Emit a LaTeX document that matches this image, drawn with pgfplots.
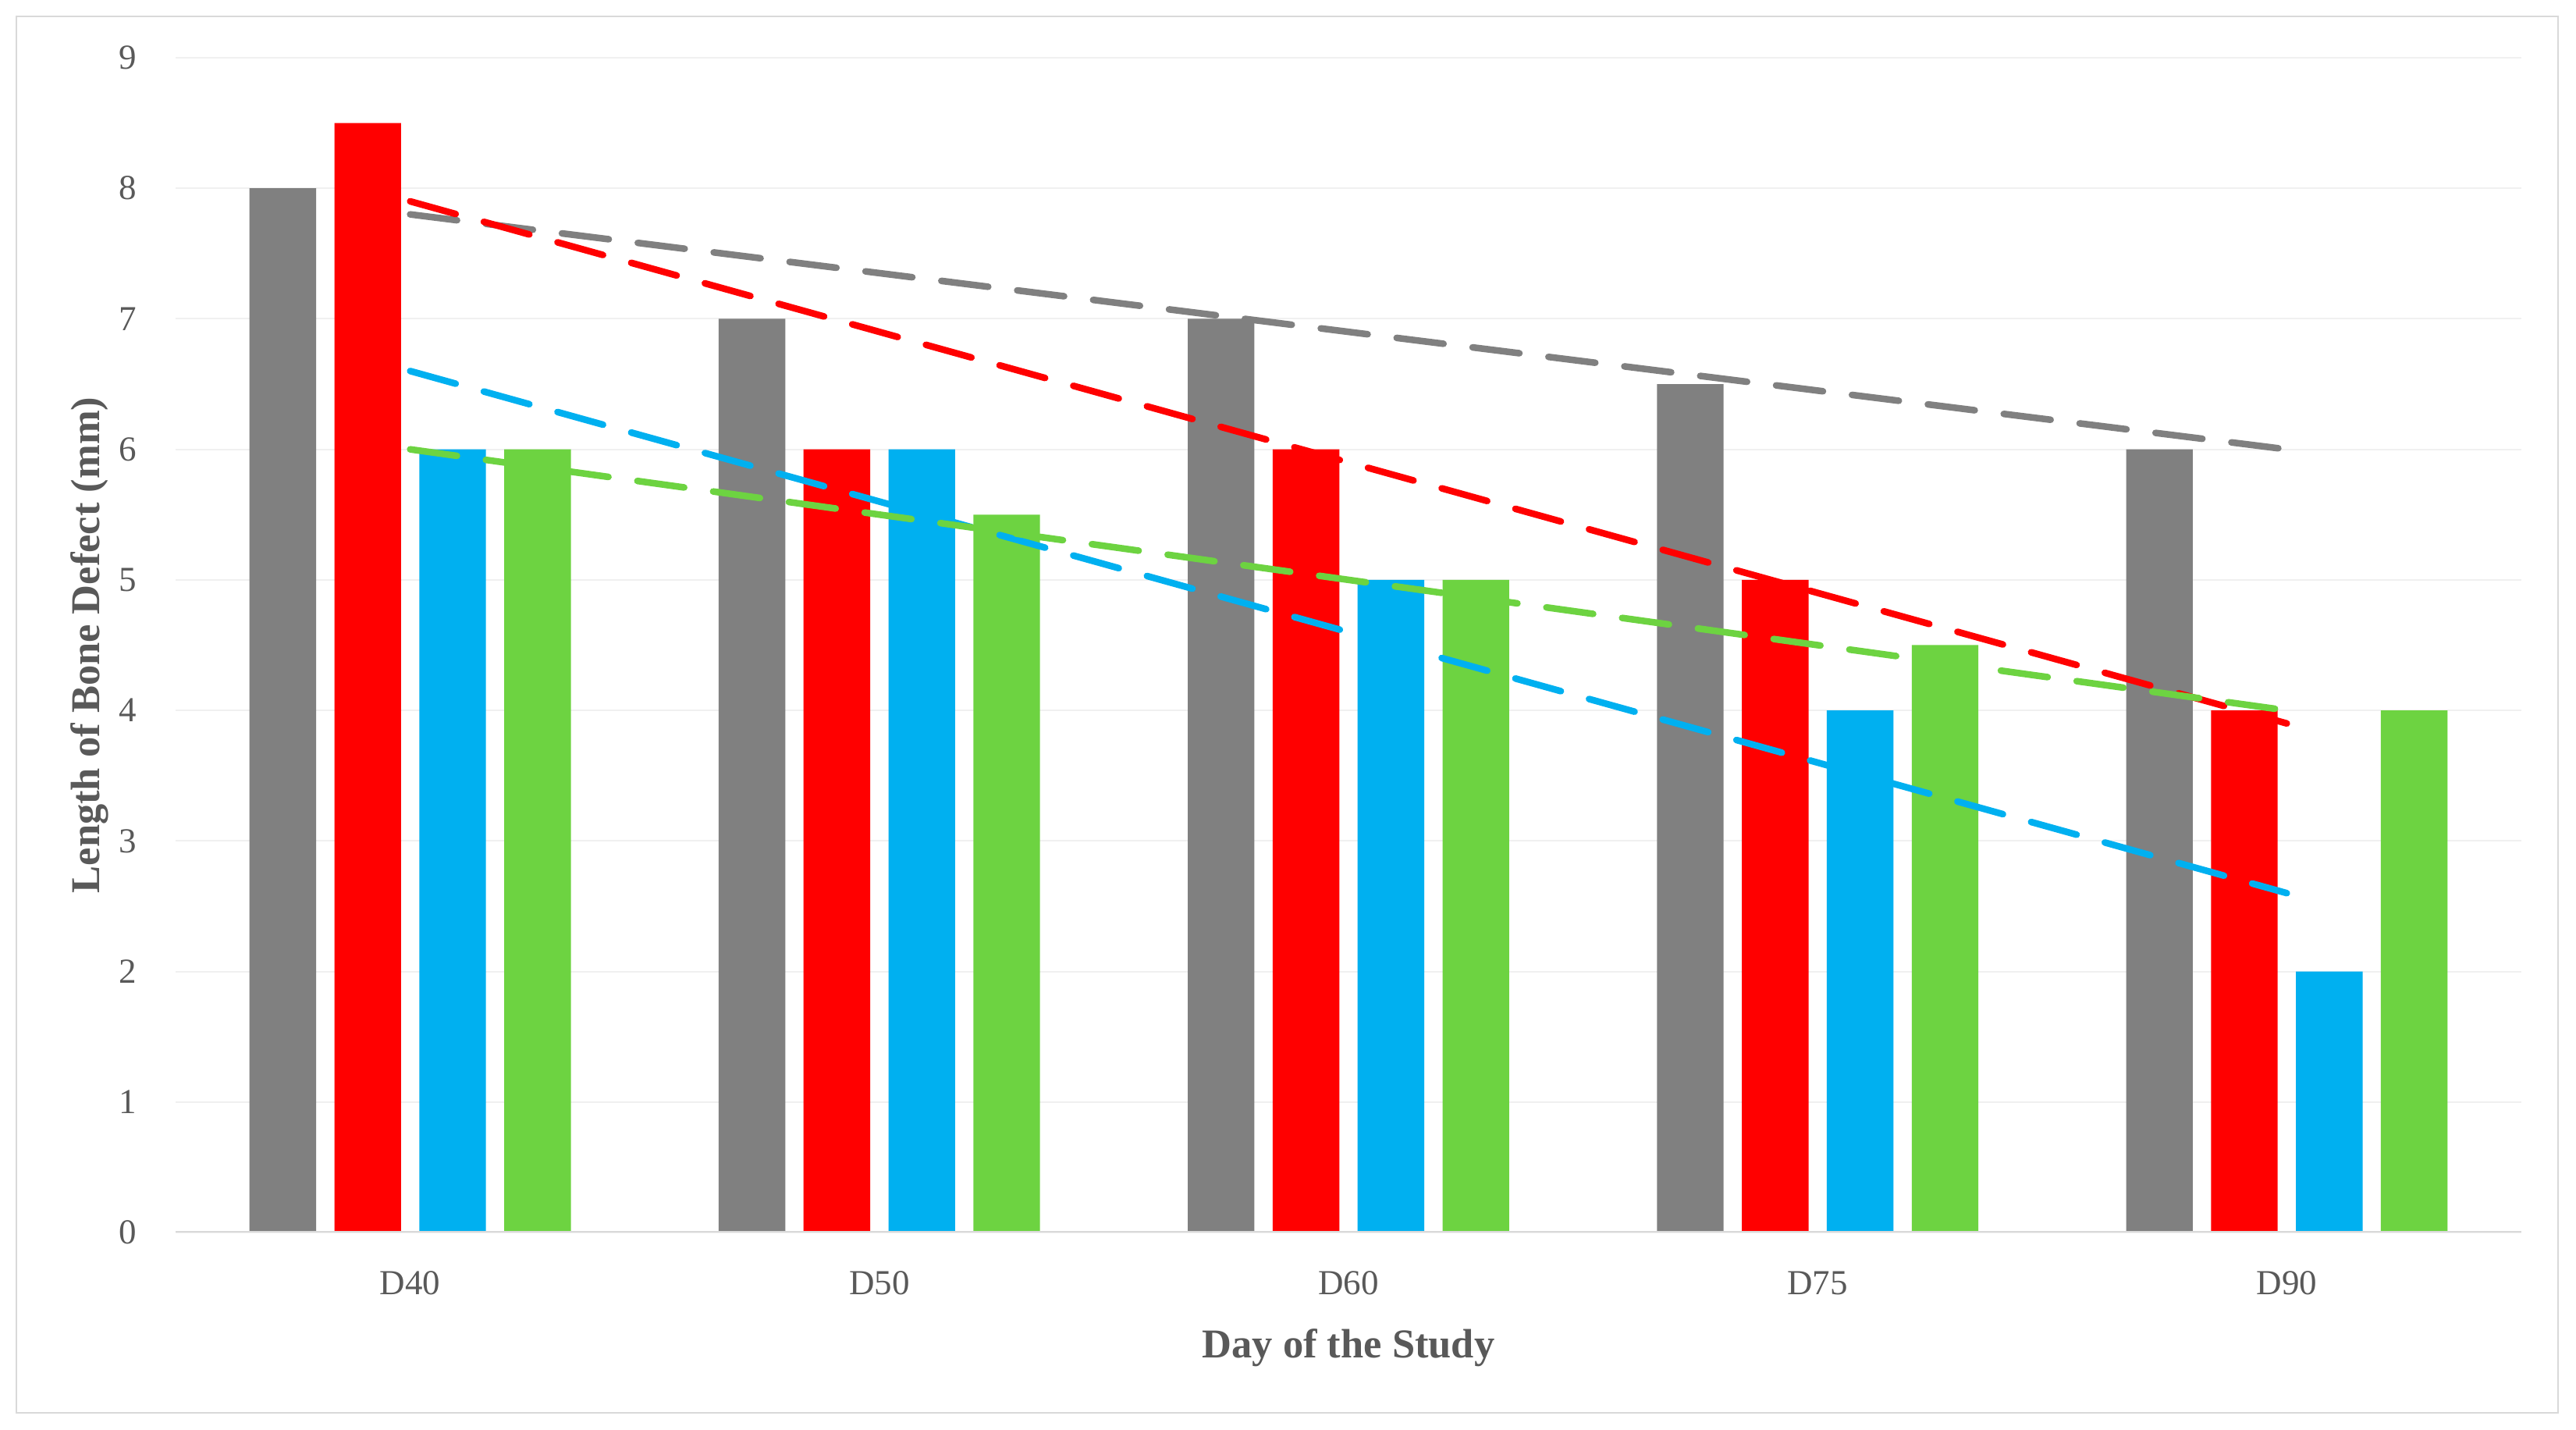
\documentclass[border=0pt]{standalone}
\usepackage{fontspec}
\setmainfont{Liberation Serif}
\usepackage{pgfplots}
\pgfplotsset{compat=1.18}

\definecolor{cGray}{RGB}{128,128,128}
\definecolor{cRed}{RGB}{255,0,0}
\definecolor{cBlue}{RGB}{0,176,240}
\definecolor{cGreen}{RGB}{109,211,65}
\definecolor{txt}{RGB}{89,89,89}
\definecolor{frame}{RGB}{217,217,217}
\definecolor{gridc}{RGB}{240,240,240}

\begin{document}
\begin{tikzpicture}
\path (0,0) rectangle (660.2pt,366.2pt);
\draw[frame, line width=0.5pt] (4.2pt,4.2pt) rectangle (655.6pt,362pt);
\begin{axis}[
  at={(45pt,50.4pt)}, anchor=south west,
  scale only axis, width=601.2pt, height=301pt,
  xmin=0.5, xmax=5.5, ymin=0, ymax=9,
  xtick={1,2,3,4,5}, xticklabels={D40,D50,D60,D75,D90},
  ytick={0,1,2,3,4,5,6,7,8,9},
  major tick length=0pt,
  axis line style={draw=none},
  ymajorgrids, grid style={draw=gridc, line width=0.4pt},
  /pgf/number format/assume math mode=true,
  tick label style={font=\fontsize{9}{10}\selectfont, text=txt},
  xticklabel style={anchor=base, yshift=-16pt},
  yticklabel style={anchor=east, xshift=-6.4pt},
  xlabel={Day of the Study},
  ylabel={Length of Bone Defect (mm)},
  label style={font=\fontsize{10.5}{12}\selectfont\bfseries, text=txt},
  xlabel style={at={(axis description cs:0.5,0)}, anchor=base, yshift=-32pt},
  ylabel style={at={(axis description cs:-0.0366,0.5)}, anchor=center},
]
% bars
\addplot[ybar, bar width=0.142, bar shift=-0.2715, fill=cGray, draw=none]
  coordinates {(1,8) (2,7) (3,7) (4,6.5) (5,6)};
\addplot[ybar, bar width=0.142, bar shift=-0.0905, fill=cRed, draw=none]
  coordinates {(1,8.5) (2,6) (3,6) (4,5) (5,4)};
\addplot[ybar, bar width=0.142, bar shift=0.0905, fill=cBlue, draw=none]
  coordinates {(1,6) (2,6) (3,5) (4,4) (5,2)};
\addplot[ybar, bar width=0.142, bar shift=0.2715, fill=cGreen, draw=none]
  coordinates {(1,6) (2,5.5) (3,5) (4,4.5) (5,4)};

\draw[frame, line width=0.6pt] (rel axis cs:0,0) -- (rel axis cs:1,0);

% linear trend lines
\tikzset{trend/.style={sharp plot, line width=1.7pt, line cap=round, dash pattern=on 12.1pt off 7.5pt}}
\addplot[trend, cGray]  coordinates {(1,7.8) (5,6.0)};
\addplot[trend, cRed]   coordinates {(1,7.9) (5,3.9)};
\addplot[trend, cBlue]  coordinates {(1,6.6) (5,2.6)};
\addplot[trend, cGreen] coordinates {(1,6.0) (5,4.0)};
\end{axis}
\end{tikzpicture}
\end{document}
